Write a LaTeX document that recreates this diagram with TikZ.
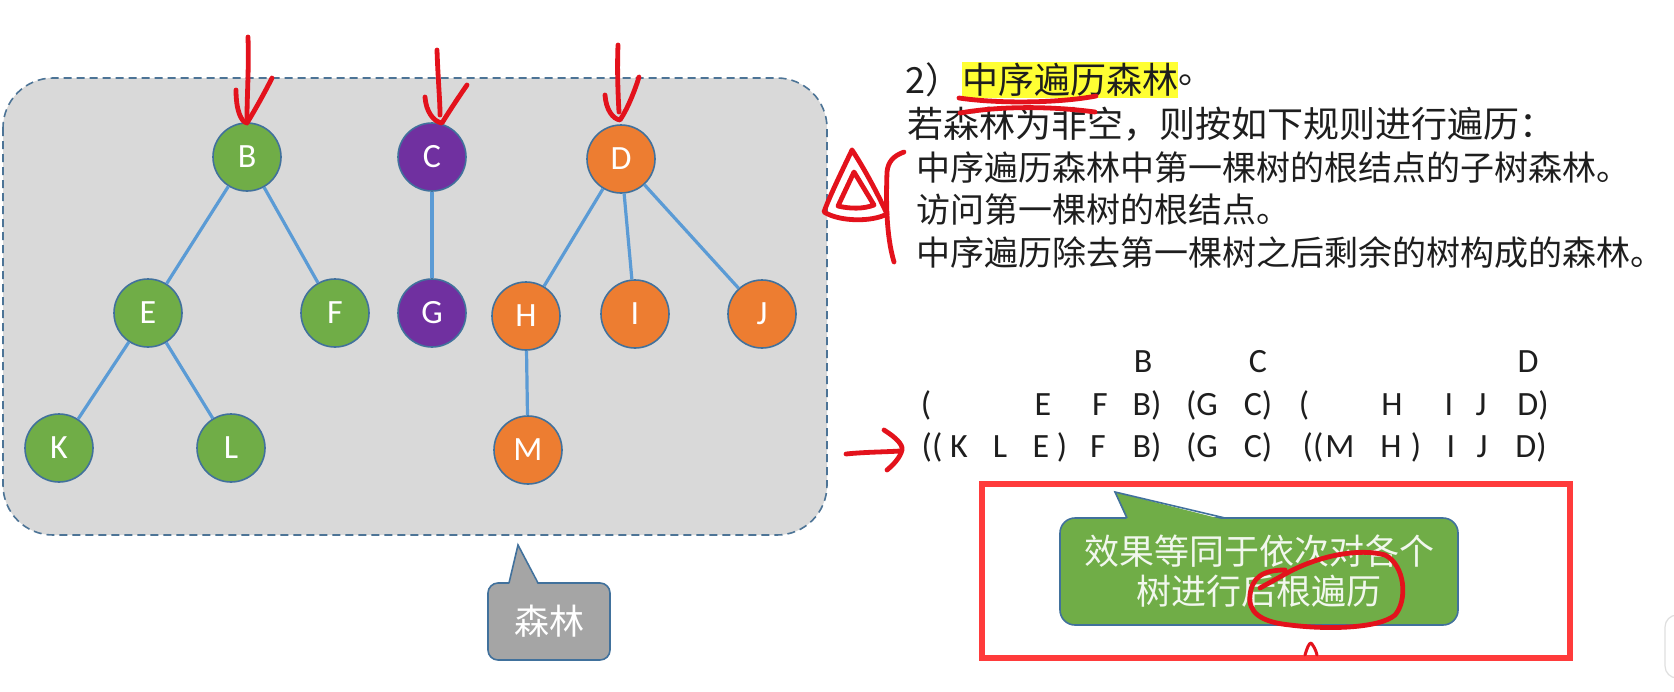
\documentclass[tikz,border=0pt]{standalone}
\usepackage{fontspec}
\setmainfont{Carlito}
\newfontfamily\cjk{Noto Sans CJK SC}
\usetikzlibrary{positioning}

\definecolor{leafgreen}{HTML}{70AD47}
\definecolor{plum}{HTML}{7030A0}
\definecolor{tangerine}{HTML}{ED7D31}
\definecolor{rimblue}{HTML}{41719C}
\definecolor{linkblue}{HTML}{5B9BD5}
\definecolor{panelgray}{HTML}{D9D9D9}
\definecolor{tipgray}{HTML}{A5A5A5}
\definecolor{marker}{HTML}{FFFF33}
\definecolor{inkred}{HTML}{E3121C}
\definecolor{framered}{HTML}{FF3B3B}
\definecolor{bodytext}{HTML}{1E1E1E}

\begin{document}
\begin{tikzpicture}[
    x=0.5pt, y=-0.5pt,
    treenode/.style={circle, draw=rimblue, line width=0.8pt, minimum size=34pt, inner sep=0pt, text=white, font=\fontsize{17}{20}\selectfont},
    branch/.style={draw=linkblue, line width=1.6pt},
    txt/.style={anchor=west, inner sep=0pt, text=bodytext, font=\cjk\fontsize{17}{20}\selectfont},
    bigtxt/.style={txt, font=\cjk\fontsize{18}{20}\selectfont},
    seq/.style={anchor=base, inner sep=0pt, text=bodytext, font=\fontsize{17}{20}\selectfont},
    callbody/.style={draw=rimblue, line width=0.8pt, text=white, inner sep=0pt, font=\cjk\fontsize{17.5}{20}\selectfont},
    ink/.style={draw=inkred, line width=2.4pt, line cap=round, line join=round}
]
\useasboundingbox (0,0) rectangle (1674,691);
\fill[white] (0,0) rectangle (1674,691);

% forest panel
\draw[fill=panelgray, draw=rimblue!80!gray, line width=0.8pt, dash pattern=on 4pt off 2.5pt, rounded corners=25pt] (3,78) rectangle (827,535);

% trees
\node[treenode, fill=leafgreen] (B) at (247,157) {B};
\node[treenode, fill=plum] (C) at (432,157) {C};
\node[treenode, fill=tangerine] (D) at (621,159) {D};
\node[treenode, fill=leafgreen] (E) at (148,313) {E};
\node[treenode, fill=leafgreen] (F) at (335,313) {F};
\node[treenode, fill=plum] (G) at (432,313) {G};
\node[treenode, fill=tangerine] (H) at (526,316) {H};
\node[treenode, fill=tangerine] (I) at (635,314) {I};
\node[treenode, fill=tangerine] (J) at (762,314) {J};
\node[treenode, fill=leafgreen] (K) at (59,448) {K};
\node[treenode, fill=leafgreen] (L) at (231,448) {L};
\node[treenode, fill=tangerine] (M) at (528,450) {M};

\foreach \a/\b in {B/E, B/F, E/K, E/L, C/G, D/H, D/I, D/J, H/M}
    \path[branch] (\a) -- (\b);

% callout under the panel
\node[callbody, fill=tipgray, rounded corners=5pt, minimum width=61pt, minimum height=38.5pt] (forest) at (549,621.5) {森林};
\fill[tipgray] (518,545) -- (509,585) -- (538,585) -- cycle;
\draw[rimblue, line width=0.8pt] (509,583) -- (518,545) -- (538,583);

% rule text
\node[bigtxt] (num) at (905,80) {2）};
\node[bigtxt, fill=marker, inner ysep=0.5pt, right=0pt of num] (title) {中序遍历森林};
\node[bigtxt, right=0pt of title] (stop) {。};
\node[bigtxt] (rule) at (907,124) {若森林为非空，则按如下规则进行遍历：};
\node[txt] (step1) at (916,168) {中序遍历森林中第一棵树的根结点的子树森林。};
\node[txt] (step2) at (916,210) {访问第一棵树的根结点。};
\node[txt] (step3) at (916,253) {中序遍历除去第一棵树之后剩余的树构成的森林。};

% traversal rows
\foreach \x/\s [count=\i] in {1143/B, 1258/C, 1528/D}
    \node[seq] (top\i) at (\x,372) {\s};
\foreach \x/\s [count=\i] in {926/{(}, 1043/E, 1100/F, 1147/{B)}, 1202/{(G}, 1258/{C)}, 1304/{(}, 1392/H, 1449/I, 1481/J, 1533/{D)}}
    \node[seq] (mid\i) at (\x,415) {\s};
\foreach \x/\s [count=\i] in {932/{((}, 959/K, 1000/L, 1041/E, 1062/{)}, 1098/F, 1147/{B)}, 1202/{(G}, 1258/{C)}, 1313/{((}, 1340/M, 1391/H, 1416/{)}, 1451/I, 1482/J, 1531/{D)}}
    \node[seq] (low\i) at (\x,457) {\s};

% framed note
\draw[framered, line width=3pt] (982,484) rectangle (1570,658);
\node[callbody, fill=leafgreen, rounded corners=7.5pt, minimum width=199pt, minimum height=53.5pt, align=center, text=white!90!leafgreen] (note) at (1259,571.5) {效果等同于依次对各个\\树进行后根遍历};
\fill[leafgreen] (1115,492) -- (1127,520) -- (1225,520) -- cycle;
\draw[rimblue, line width=0.8pt] (1127,518) -- (1115,492) -- (1225,518);

% screen edge
\draw[gray!25, fill=white, line width=0.6pt, rounded corners=6pt] (1665,615) rectangle (1700,678);

% pen marks
\draw[ink] (248,37) .. controls (249,70) and (247,95) .. (247,118);
\draw[ink] (236,90) .. controls (236,110) and (241,122) .. (247,123) .. controls (255,110) and (265,92) .. (272,78);
\draw[ink] (437,50) .. controls (438,80) and (440,100) .. (440,115);
\draw[ink] (425,97) .. controls (426,112) and (434,122) .. (442,123) .. controls (450,110) and (460,95) .. (467,85);
\draw[ink] (618,45) .. controls (617,70) and (618,95) .. (619,112);
\draw[ink] (605,95) .. controls (606,110) and (613,119) .. (620,120) .. controls (628,108) and (635,90) .. (639,77);
\draw[ink] (959,98) .. controls (1000,104) and (1060,103) .. (1096,96);
\draw[ink] (960,113) .. controls (1000,106) and (1050,106) .. (1095,112);
\draw[ink] (852,150) .. controls (840,175) and (828,200) .. (824,212) .. controls (840,222) and (872,222) .. (887,214) .. controls (876,190) and (862,165) .. (852,150);
\draw[ink] (854,172) -- (838,206) .. controls (850,209) and (864,209) .. (874,205) -- cycle;
\draw[ink] (904,152) .. controls (893,156) and (888,162) .. (887,172) .. controls (886,200) and (886,235) .. (894,262);
\draw[ink] (846,454) .. controls (865,452) and (885,452) .. (900,451);
\draw[ink] (884,430) .. controls (895,437) and (903,444) .. (902,450) .. controls (900,458) and (893,465) .. (887,470);
\draw[ink] (1260,588) -- (1287,573) .. controls (1320,555) and (1360,548) .. (1385,555) .. controls (1405,565) and (1408,600) .. (1395,615) .. controls (1380,628) and (1330,630) .. (1290,625) .. controls (1260,622) and (1248,612) .. (1250,595) .. controls (1252,578) and (1262,570) .. (1285,570);
\draw[ink, line width=1.5pt] (1305,655) .. controls (1307,648) and (1309,643) .. (1311,643) .. controls (1313,645) and (1316,650) .. (1317,655);
\end{tikzpicture}
\end{document}
